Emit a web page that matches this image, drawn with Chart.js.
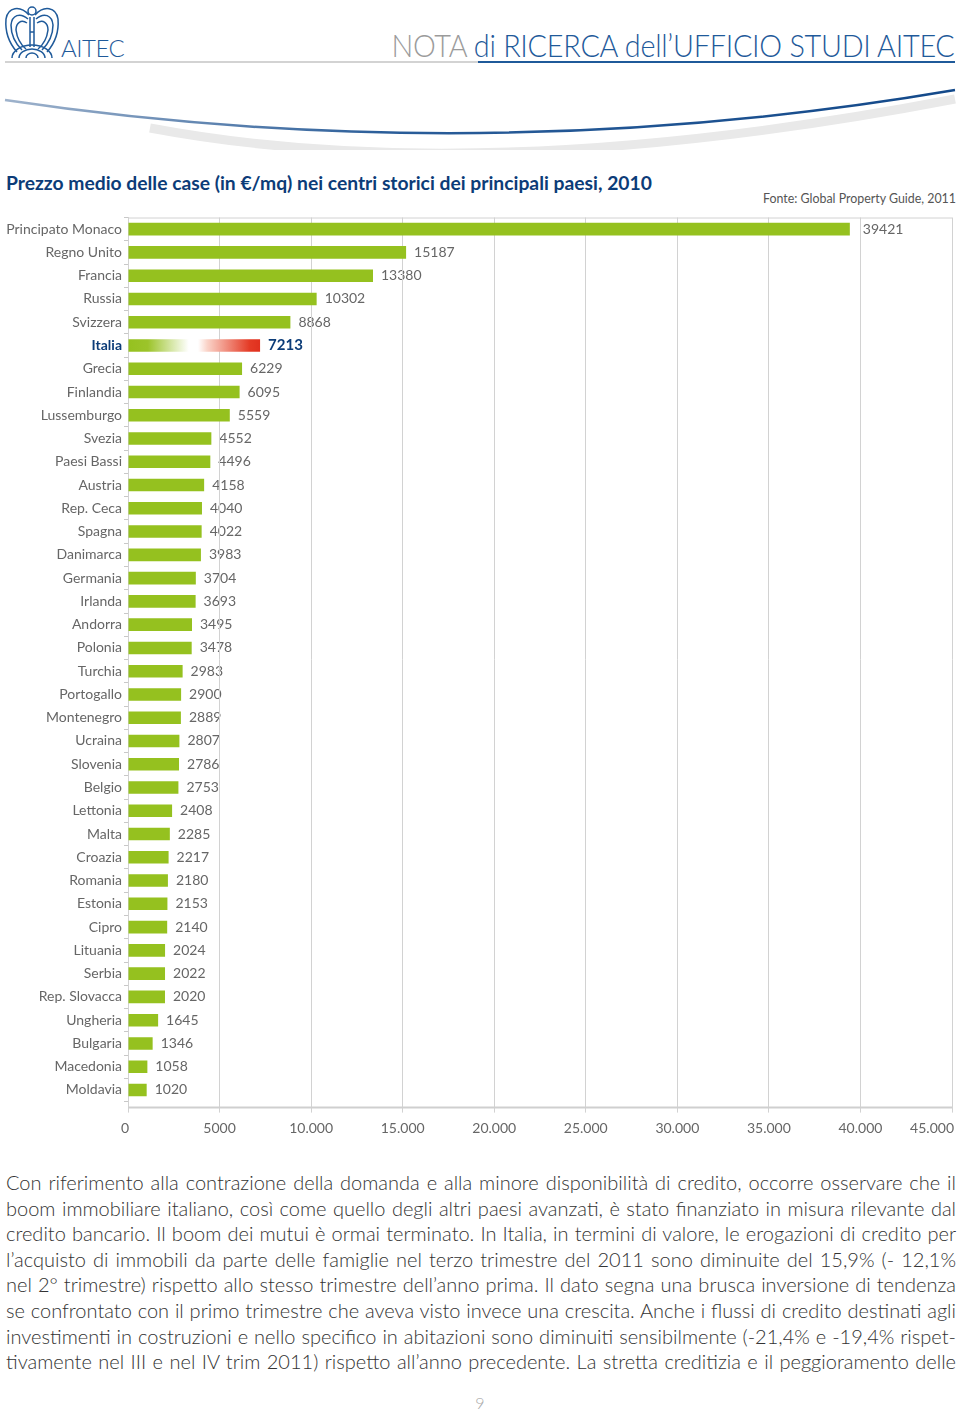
<!DOCTYPE html>
<html lang="it">
<head>
<meta charset="utf-8">
<title>Prezzo medio delle case nei centri storici</title>
<script src="https://cdn.jsdelivr.net/npm/chart.js@4.4.1/dist/chart.umd.min.js"></script>
<style>
  html, body { margin: 0; padding: 0; background: #fff; }
  body { width: 960px; height: 1411px; position: relative; overflow: hidden; font-family: Lato, "Open Sans", sans-serif; }
  .abs { position: absolute; }
  #head-title { right: 5px; top: 26px; font-size: 31px; font-weight: 300; color: #1f5a9a; white-space: nowrap; letter-spacing: -0.3px; transform: scaleX(0.93); transform-origin: right center; }
  #head-title .grey { color: #9b9b9b; }
  #aitec { left: 61px; top: 33px; font-size: 24px; color: #1f5a9a; font-weight: 300; letter-spacing: -0.5px; }
  #chart-title { left: 6px; top: 171px; font-size: 19.3px; font-weight: 700; color: #0c3c78; white-space: nowrap; }
  #source { right: 4px; top: 191px; font-size: 12.4px; color: #555; white-space: nowrap; font-weight: 400; }
  #chart-box { left: 0; top: 205px; width: 960px; height: 945px; }
  #body-text { left: 6px; top: 1170px; width: 950px; font-size: 20px; line-height: 25.6px; color: #333; font-weight: 300; }
  #body-text div { text-align: justify; text-align-last: justify; white-space: nowrap; }
  #page-num { left: 0; width: 960px; top: 1393px; text-align: center; font-size: 16px; color: #aaa; font-weight: 300; }
</style>
</head>
<body>

<!-- intestazione -->
<svg class="abs" style="left:0;top:0" width="960" height="150">
  <g fill="none" stroke="#1f5a9a" stroke-width="1.5">
    <circle cx="32" cy="11" r="4"/>
    <path d="M29 15 C20 5, 8 7, 6 19 C5 31, 9 43, 17 52"/>
    <path d="M28 19 C20 12, 12 15, 11 25 C11 35, 15 43, 22 50"/>
    <path d="M27 23 C21 19, 16 23, 16 30 C17 38, 20 44, 26 49"/>
    <path d="M35 15 C44 5, 56 7, 58 19 C59 31, 55 43, 47 52"/>
    <path d="M36 19 C44 12, 52 15, 53 25 C53 35, 49 43, 42 50"/>
    <path d="M37 23 C43 19, 48 23, 48 30 C47 38, 44 44, 38 49"/>
    <path d="M30 17 L30 47 M34 17 L34 47 M30 32 L34 32"/>
    <path d="M12 58 A20 13 0 0 1 52 58"/>
    <path d="M19 58 A13 9 0 0 1 45 58"/>
    <path d="M26 58 A6 5 0 0 1 38 58"/>
  </g>
  <line x1="5" y1="62" x2="478" y2="62" stroke="#c4c4c4" stroke-width="1.5"/>
  <line x1="478" y1="62" x2="955" y2="62" stroke="#1f5a9a" stroke-width="2"/>
  <defs>
    <linearGradient id="sw" x1="0" x2="1" y1="0" y2="0">
      <stop offset="0" stop-color="#9fb3cc"/>
      <stop offset="0.4" stop-color="#2a5d99"/>
      <stop offset="1" stop-color="#13498a"/>
    </linearGradient>
  </defs>
  <path d="M150 128 Q 480 190 955 99" fill="none" stroke="#e9e9e9" stroke-width="9"/>
  <path d="M5 100 Q 480 171 955 90" fill="none" stroke="url(#sw)" stroke-width="2.5"/>
</svg>
<div id="aitec" class="abs">AITEC</div>
<div id="head-title" class="abs"><span class="grey">NOTA</span> di RICERCA dell’UFFICIO STUDI AITEC</div>

<div id="chart-title" class="abs">Prezzo medio delle case (in €/mq) nei centri storici dei principali paesi, 2010</div>
<div id="source" class="abs">Fonte: Global Property Guide, 2011</div>

<div id="chart-box" class="abs"><canvas id="chart"></canvas></div>

<div id="body-text" class="abs">
  <div>Con riferimento alla contrazione della domanda e alla minore disponibilità di credito, occorre osservare che il</div>
  <div>boom immobiliare italiano, così come quello degli altri paesi avanzati, è stato finanziato in misura rilevante dal</div>
  <div>credito bancario. Il boom dei mutui è ormai terminato. In Italia, in termini di valore, le erogazioni di credito per</div>
  <div>l’acquisto di immobili da parte delle famiglie nel terzo trimestre del 2011 sono diminuite del 15,9% (- 12,1%</div>
  <div>nel 2° trimestre) rispetto allo stesso trimestre dell’anno prima. Il dato segna una brusca inversione di tendenza</div>
  <div>se confrontato con il primo trimestre che aveva visto invece una crescita. Anche i flussi di credito destinati agli</div>
  <div>investimenti in costruzioni e nello specifico in abitazioni sono diminuiti sensibilmente (-21,4% e -19,4% rispet-</div>
  <div>tivamente nel III e nel IV trim 2011) rispetto all’anno precedente. La stretta creditizia e il peggioramento delle</div>
</div>
<div id="page-num" class="abs">9</div>

<script>
// dati del grafico
const paesi = [
  'Principato Monaco', 'Regno Unito', 'Francia', 'Russia', 'Svizzera', 'Italia',
  'Grecia', 'Finlandia', 'Lussemburgo', 'Svezia', 'Paesi Bassi', 'Austria',
  'Rep. Ceca', 'Spagna', 'Danimarca', 'Germania', 'Irlanda', 'Andorra',
  'Polonia', 'Turchia', 'Portogallo', 'Montenegro', 'Ucraina', 'Slovenia',
  'Belgio', 'Lettonia', 'Malta', 'Croazia', 'Romania', 'Estonia', 'Cipro',
  'Lituania', 'Serbia', 'Rep. Slovacca', 'Ungheria', 'Bulgaria', 'Macedonia', 'Moldavia'
];
const prezzi = [
  39421, 15187, 13380, 10302, 8868, 7213,
  6229, 6095, 5559, 4552, 4496, 4158,
  4040, 4022, 3983, 3704, 3693, 3495,
  3478, 2983, 2900, 2889, 2807, 2786,
  2753, 2408, 2285, 2217, 2180, 2153, 2140,
  2024, 2022, 2020, 1645, 1346, 1058, 1020
];
const tickValori = [0, 5000, 10000, 15000, 20000, 25000, 30000, 35000, 40000, 45000];
const tickEtichette = ['0', '5000', '10.000', '15.000', '20.000', '25.000', '30.000', '35.000', '40.000', '45.000'];
const paeseEvidenziato = 'Italia';

const VERDE = '#95c11f';
const BLU = '#0c3c78';
const GRIGIO_TESTO = '#666666';
const GRIGIO_LINEE = '#d2d2d2';
const FONT = 'Lato, "Open Sans", sans-serif';

// gradiente per la barra dell'Italia
function coloreBarra(context) {
  if (paesi[context.dataIndex] !== paeseEvidenziato) return VERDE;
  const chart = context.chart;
  if (!chart.chartArea) return VERDE;
  const x = chart.scales.x;
  const x0 = x.getPixelForValue(0);
  const x1 = x.getPixelForValue(prezzi[context.dataIndex]);
  const g = chart.ctx.createLinearGradient(x0, 0, x1, 0);
  g.addColorStop(0, '#95c11f');
  g.addColorStop(0.15, '#9cc42a');
  g.addColorStop(0.46, '#ffffff');
  g.addColorStop(0.53, '#ffffff');
  g.addColorStop(0.6, '#fad3c8');
  g.addColorStop(0.92, '#e43b26');
  g.addColorStop(1, '#e0301e');
  return g;
}

// etichette valori, disegnate prima della griglia (la griglia le attraversa)
const etichetteValori = {
  id: 'etichetteValori',
  beforeDraw(chart) {
    const ctx = chart.ctx;
    const meta = chart.getDatasetMeta(0);
    ctx.save();
    ctx.textBaseline = 'middle';
    ctx.textAlign = 'left';
    meta.data.forEach((bar, i) => {
      const evid = paesi[i] === paeseEvidenziato;
      ctx.font = (evid ? 'bold 15px ' : '14px ') + FONT;
      ctx.fillStyle = evid ? BLU : GRIGIO_TESTO;
      const off = i === 0 ? 13 : 8;
      ctx.fillText(String(prezzi[i]), bar.x + off, bar.y);
    });
    ctx.restore();
  },
  afterDraw(chart) {
    const ctx = chart.ctx;
    const area = chart.chartArea;
    const x = chart.scales.x;
    const asseY = area.bottom + 6;
    ctx.save();
    ctx.strokeStyle = GRIGIO_LINEE;
    ctx.lineWidth = 1;
    ctx.beginPath();
    // bordo superiore dell'area
    ctx.moveTo(area.left, area.top + 0.5);
    ctx.lineTo(area.right, area.top + 0.5);
    // prolungamento asse verticale
    ctx.moveTo(area.left + 0.5, area.bottom);
    ctx.lineTo(area.left + 0.5, asseY);
    ctx.stroke();
    // asse orizzontale
    ctx.strokeStyle = '#cfcfcf';
    ctx.lineWidth = 2;
    ctx.beginPath();
    ctx.moveTo(area.left, asseY);
    ctx.lineTo(area.right, asseY);
    ctx.stroke();
    // etichette asse x
    ctx.font = '14px ' + FONT;
    ctx.fillStyle = GRIGIO_TESTO;
    ctx.textBaseline = 'middle';
    tickValori.forEach((v, i) => {
      const px = x.getPixelForValue(v);
      if (i === 0) { ctx.textAlign = 'right'; ctx.fillText(tickEtichette[i], px + 1, area.bottom + 27); }
      else if (i === tickValori.length - 1) { ctx.textAlign = 'right'; ctx.fillText(tickEtichette[i], px + 2, area.bottom + 27); }
      else { ctx.textAlign = 'center'; ctx.fillText(tickEtichette[i], px, area.bottom + 27); }
    });
    ctx.restore();
  }
};

new Chart(document.getElementById('chart'), {
  type: 'bar',
  data: {
    labels: paesi,
    datasets: [{
      data: prezzi,
      backgroundColor: coloreBarra,
      borderWidth: 0,
      barPercentage: 0.54,
      categoryPercentage: 1
    }]
  },
  options: {
    indexAxis: 'y',
    responsive: true,
    maintainAspectRatio: false,
    animation: false,
    events: [],
    layout: { padding: { top: 12.5, right: 8, bottom: 37.4, left: 0 } },
    plugins: {
      legend: { display: false },
      title: { display: false },
      tooltip: { enabled: false }
    },
    scales: {
      x: {
        min: 0,
        max: 45000,
        afterBuildTicks: (scale) => { scale.ticks = tickValori.map(v => ({ value: v })); },
        ticks: { display: false },
        grid: { color: GRIGIO_LINEE, lineWidth: 1, tickLength: 11 },
        border: { display: false }
      },
      y: {
        afterFit: (scale) => { scale.width = 128; },
        ticks: {
          padding: 2,
          autoSkip: false,
          font: (c) => ({ family: FONT, size: 14, weight: paesi[c.index] === paeseEvidenziato ? 'bold' : 'normal' }),
          color: (c) => paesi[c.index] === paeseEvidenziato ? BLU : GRIGIO_TESTO
        },
        grid: { drawOnChartArea: false, tickLength: 4, color: '#c8c8c8' },
        border: { display: true, color: GRIGIO_LINEE, width: 1 }
      }
    }
  },
  plugins: [etichetteValori]
});
</script>
</body>
</html>
